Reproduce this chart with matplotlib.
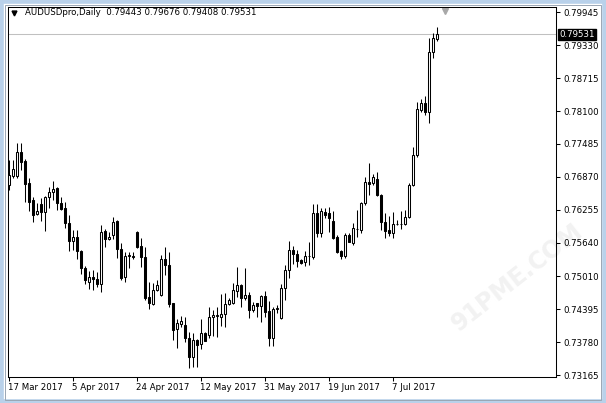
import matplotlib
matplotlib.use("Agg")
import matplotlib.pyplot as plt
import matplotlib.transforms as mtransforms
from matplotlib.patches import Rectangle, Circle

# ── Data (AUDUSDpro daily, bar 0 = 17 Mar 2017) ─────────────────────

opens = [
    0.76716, 0.76884, 0.76884, 0.77333, 0.77164, 0.76753, 0.76435, 0.76173,
    0.76360, 0.76211, 0.76491, 0.76585, 0.76659, 0.76379, 0.76285, 0.76005,
    0.75668, 0.75743, 0.75481, 0.75163, 0.74902, 0.74995, 0.74958, 0.74864,
    0.75855, 0.75706, 0.75781, 0.76042, 0.75519, 0.74995, 0.75388, 0.75388,
    0.75837, 0.75575, 0.75369, 0.74621, 0.74490, 0.74752, 0.74659, 0.75332,
    0.75220, 0.74509, 0.74023, 0.74116, 0.74098, 0.73854, 0.73499, 0.73817,
    0.73742, 0.73948, 0.73911, 0.74247, 0.74260, 0.74247, 0.74303, 0.74490,
    0.74509, 0.74733, 0.74846, 0.74602, 0.74659, 0.74378, 0.74509, 0.74453,
    0.74640, 0.74359, 0.73854, 0.74397, 0.74228, 0.74789, 0.75126, 0.75500,
    0.75425, 0.75313, 0.75276, 0.75388, 0.75369, 0.76192, 0.75818, 0.76211,
    0.76192, 0.76042, 0.75743, 0.75481, 0.75388, 0.75781, 0.75631, 0.75893,
    0.75874, 0.76379, 0.76772, 0.76753, 0.76828, 0.76529, 0.76024, 0.75874,
    0.75818, 0.75986, 0.75986, 0.75986, 0.76117, 0.76716, 0.77277, 0.78118,
    0.78249, 0.78081, 0.79203, 0.79443,
]
highs = [
    0.77183, 0.77183, 0.77501, 0.77501, 0.77202, 0.76846, 0.76491, 0.76379,
    0.76472, 0.76510, 0.76678, 0.76790, 0.76678, 0.76491, 0.76398, 0.76155,
    0.75874, 0.75874, 0.75500, 0.75201, 0.75107, 0.75126, 0.75089, 0.75968,
    0.75893, 0.75837, 0.76117, 0.76061, 0.75631, 0.75463, 0.75463, 0.75463,
    0.75855, 0.75724, 0.75556, 0.74902, 0.74883, 0.74939, 0.75407, 0.75556,
    0.75463, 0.74520, 0.74210, 0.74266, 0.74247, 0.73967, 0.73948, 0.73830,
    0.74210, 0.73967, 0.74434, 0.74378, 0.74434, 0.74677, 0.74696, 0.74602,
    0.74883, 0.75182, 0.74860, 0.75163, 0.74715, 0.74528, 0.74520, 0.74659,
    0.74733, 0.74546, 0.74434, 0.74472, 0.74864, 0.75220, 0.75668, 0.75575,
    0.75500, 0.75332, 0.75481, 0.75650, 0.76360, 0.76360, 0.76285, 0.76285,
    0.76304, 0.76229, 0.75781, 0.75500, 0.75818, 0.75818, 0.76005, 0.76248,
    0.76398, 0.76865, 0.77127, 0.76921, 0.76959, 0.76540, 0.76192, 0.76136,
    0.76211, 0.76061, 0.76229, 0.76248, 0.76753, 0.77426, 0.78268, 0.78324,
    0.78380, 0.79464, 0.79558, 0.79676,
]
lows = [
    0.76622, 0.76846, 0.76846, 0.76996, 0.76398, 0.76229, 0.76024, 0.76155,
    0.76042, 0.75855, 0.76285, 0.76435, 0.76248, 0.76248, 0.75911, 0.75481,
    0.75500, 0.75332, 0.75051, 0.74864, 0.74771, 0.74752, 0.74808, 0.74715,
    0.75556, 0.75687, 0.75706, 0.75350, 0.74939, 0.74902, 0.75163, 0.75332,
    0.75545, 0.75182, 0.74565, 0.74397, 0.74472, 0.74733, 0.74640, 0.75033,
    0.74434, 0.73817, 0.73667, 0.74060, 0.73780, 0.73293, 0.73312, 0.73312,
    0.73649, 0.73798, 0.73854, 0.73892, 0.73873, 0.74079, 0.74060, 0.74472,
    0.74490, 0.74621, 0.74434, 0.74565, 0.74228, 0.74341, 0.74247, 0.74154,
    0.74247, 0.73705, 0.73705, 0.74322, 0.74215, 0.74565, 0.74976, 0.75238,
    0.75182, 0.75238, 0.75201, 0.75220, 0.75332, 0.75743, 0.75743, 0.76098,
    0.75837, 0.75706, 0.75444, 0.75332, 0.75350, 0.75650, 0.75594, 0.75743,
    0.75818, 0.76342, 0.76529, 0.76716, 0.76510, 0.75874, 0.75724, 0.75762,
    0.75724, 0.75968, 0.75893, 0.75968, 0.76105, 0.76697, 0.77239, 0.78081,
    0.78025, 0.77875, 0.79090, 0.79408,
]
closes = [
    0.76903, 0.77015, 0.77333, 0.77146, 0.76734, 0.76398, 0.76155, 0.76229,
    0.76211, 0.76491, 0.76585, 0.76641, 0.76379, 0.76267, 0.76005, 0.75668,
    0.75743, 0.75481, 0.75163, 0.74939, 0.74995, 0.74958, 0.74864, 0.75837,
    0.75706, 0.75743, 0.76024, 0.75519, 0.74976, 0.75388, 0.75407, 0.75369,
    0.75556, 0.75369, 0.74602, 0.74509, 0.74752, 0.74846, 0.75332, 0.75220,
    0.74490, 0.74004, 0.74135, 0.74172, 0.73854, 0.73499, 0.73817, 0.73724,
    0.73948, 0.73798, 0.74247, 0.74285, 0.74280, 0.74303, 0.74490, 0.74565,
    0.74752, 0.74846, 0.74602, 0.74659, 0.74378, 0.74472, 0.74453, 0.74640,
    0.74341, 0.73854, 0.74397, 0.74415, 0.74789, 0.75126, 0.75500, 0.75425,
    0.75294, 0.75257, 0.75388, 0.75395, 0.76192, 0.75818, 0.76229, 0.76155,
    0.76098, 0.75724, 0.75463, 0.75388, 0.75781, 0.75660, 0.75911, 0.75900,
    0.76379, 0.76772, 0.76734, 0.76865, 0.76529, 0.76024, 0.75855, 0.75818,
    0.75986, 0.75990, 0.75980, 0.76117, 0.76716, 0.77277, 0.78137, 0.78249,
    0.78081, 0.79203, 0.79464, 0.79531,
]

date_tick_bars = [0, 16, 32, 48, 64, 80, 96]
date_labels = ["17 Mar 2017", "5 Apr 2017", "24 Apr 2017", "12 May 2017",
               "31 May 2017", "19 Jun 2017", "7 Jul 2017"]
price_ticks = [0.79945, 0.79330, 0.78715, 0.78100, 0.77485, 0.76870,
               0.76255, 0.75640, 0.75010, 0.74395, 0.73780, 0.73165]
price_labels = ["%.5f" % p for p in price_ticks]

header = "AUDUSDpro,Daily  0.79443 0.79676 0.79408 0.79531"
last_price = closes[-1]

# ── Figure / axes ───────────────────────────────────────────────────

W, H = 606, 403
FS = 6.2
LW = 0.75

fig = plt.figure(figsize=(W / 100, H / 100), dpi=100)
fig.patch.set_facecolor("white")
ax = fig.add_axes([8 / W, 26 / H, 548 / W, 370 / H])
ax.set_facecolor("white")

# window border
fig.add_artist(Rectangle((0, 0), 1, 1, transform=fig.transFigure, fill=False,
                         edgecolor="#b9d1ea", linewidth=5.5))
fig.add_artist(Rectangle((4.5 / W, 3.5 / H), 596.5 / W, 395 / H,
                         transform=fig.transFigure, fill=False,
                         edgecolor="#9aa6b4", linewidth=0.7))

# faint watermark
ax.text(0.93, 0.27, "91PME.COM", transform=ax.transAxes, rotation=38,
        ha="center", va="center", fontsize=17, fontweight="bold",
        color="#f2f2f2", zorder=0)
fig.add_artist(Circle((432 / W, (H - 318) / H), 0.045, transform=fig.transFigure,
                      fill=False, edgecolor="#f3f3f3", linewidth=4, zorder=0))

# ── Candles ─────────────────────────────────────────────────────────

xs = list(range(len(closes)))
ax.vlines(xs, lows, highs, color="black", linewidth=LW, zorder=2)
for i, (o, c) in enumerate(zip(opens, closes)):
    face = "white" if c >= o else "black"
    ax.bar(i, abs(c - o), bottom=min(o, c), width=0.5, color=face,
           edgecolor="black", linewidth=LW, zorder=3)

ax.axhline(last_price, color="#c0c0c0", linewidth=LW, zorder=1)

ax.set_xlim(-0.25, -0.25 + 548 / 4)
ax.set_ylim(0.73128, 0.80044)

for sp in ax.spines.values():
    sp.set_color("black")
    sp.set_linewidth(LW)

ax.yaxis.tick_right()
ax.set_yticks(price_ticks)
ax.set_yticklabels(price_labels)
ax.set_xticks(date_tick_bars)
ax.set_xticklabels(date_labels, ha="left")
ax.tick_params(axis="both", direction="out", length=3, width=LW,
               labelsize=FS, colors="black")
ax.tick_params(axis="y", pad=2)
ax.tick_params(axis="x", pad=1)
offset = mtransforms.ScaledTranslation(-1 / 100, 0, fig.dpi_scale_trans)
for lbl in ax.get_xticklabels():
    lbl.set_transform(lbl.get_transform() + offset)

# current price box on the right scale
trans = mtransforms.blended_transform_factory(ax.transAxes, ax.transData)
ax.text(1.006, last_price, "%.5f" % last_price, transform=trans,
        ha="left", va="center", color="white", fontsize=FS, zorder=5,
        bbox=dict(facecolor="black", edgecolor="black", pad=0.8),
        clip_on=False)

# header line
ax.plot([0.011], [0.985], marker="v", color="black", markersize=3.5,
        transform=ax.transAxes, clip_on=False)
ax.text(17 / 548, 0.985, header, transform=ax.transAxes, ha="left",
        va="center", fontsize=FS, color="black")

# shift marker
ax.plot([109], [0.99], marker="v", color="#a8a8a8", markersize=5,
        transform=mtransforms.blended_transform_factory(ax.transData, ax.transAxes),
        clip_on=False)

fig.savefig("out.png", dpi=100)
